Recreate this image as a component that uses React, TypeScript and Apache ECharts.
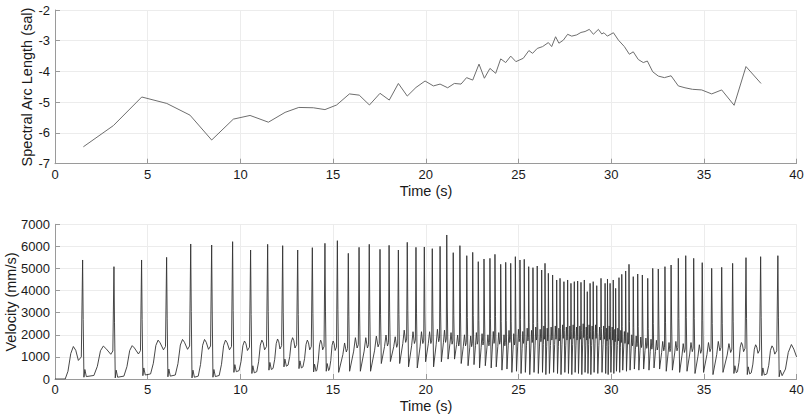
import React, { useEffect, useRef } from "react";
import * as echarts from "echarts";

// ---- Top panel: Spectral Arc Length per beat ----
const salTime = [
  1.53, 3.15, 4.68, 6.03, 7.28, 8.45, 9.62, 10.52, 11.51, 12.41, 13.15, 13.93, 14.56, 15.19,
  15.88, 16.41, 16.96, 17.53, 18.03, 18.52, 19.0, 19.47, 19.96, 20.41, 20.77, 21.18, 21.54,
  21.9, 22.2, 22.53, 22.87, 23.16, 23.46, 23.77, 24.04, 24.31, 24.58, 24.86, 25.26, 25.56,
  25.76, 26.01, 26.3, 26.61, 26.79, 27.0, 27.18, 27.42, 27.65, 27.87, 28.14, 28.37, 28.59,
  28.82, 29.04, 29.31, 29.49, 29.61, 29.79, 30.12, 30.39, 30.71, 30.98, 31.19, 31.46, 31.73,
  31.95, 32.24, 32.54, 32.87, 33.23, 33.62, 33.98, 34.38, 34.88, 35.42, 35.96, 36.63, 37.27,
  38.08,
];
const salValue = [
  -6.45, -5.76, -4.83, -5.04, -5.42, -6.23, -5.55, -5.43, -5.65, -5.33, -5.17, -5.18, -5.24,
  -5.09, -4.73, -4.77, -5.09, -4.71, -4.93, -4.39, -4.8, -4.52, -4.31, -4.47, -4.41, -4.53,
  -4.39, -4.41, -4.2, -4.28, -3.76, -4.22, -3.9, -4.06, -3.59, -3.71, -3.5, -3.68, -3.57,
  -3.32, -3.41, -3.25, -3.19, -3.06, -3.19, -2.87, -3.08, -2.98, -2.79, -2.85, -2.81, -2.73,
  -2.7, -2.63, -2.79, -2.63, -2.78, -2.74, -2.85, -2.74, -2.98, -3.19, -3.44, -3.36, -3.61,
  -3.71, -3.66, -4.01, -4.15, -4.2, -4.14, -4.47, -4.53, -4.58, -4.6, -4.73, -4.6, -5.1,
  -3.84, -4.39,
];

// ---- Bottom panel: velocity, read beat by beat ----
// spike time (s), spike peak (mm/s), hump before spike, trough after spike
const spikeT = [
  1.49, 3.18, 4.67, 6.02, 7.32, 8.45, 9.58, 10.55, 11.47, 12.28, 13.09, 13.88, 14.56, 15.23,
  15.82, 16.4, 16.95, 17.53, 18.02, 18.52, 19.0, 19.47, 19.92, 20.35, 20.77, 21.13, 21.48,
  21.84, 22.21, 22.53, 22.83, 23.14, 23.46, 23.73, 24.04, 24.31, 24.58, 24.83, 25.08, 25.31,
  25.55, 25.78, 26.01, 26.25, 26.43, 26.61, 26.84, 27.06, 27.24, 27.45, 27.65, 27.83, 28.01,
  28.19, 28.37, 28.55, 28.71, 28.86, 29.03, 29.22, 29.45, 29.67, 29.8, 29.94, 30.11, 30.24,
  30.42, 30.57, 30.78, 30.96, 31.19, 31.43, 31.68, 31.97, 32.24, 32.54, 32.9, 33.23, 33.62,
  34.02, 34.45, 34.91, 35.42, 35.96, 36.55, 37.27, 38.06, 38.99,
];
const spikeV = [
  5385, 5083, 5385, 5505, 6109, 6063, 6214, 5837, 6094, 6033, 5837, 5943, 6139, 6259, 5686,
  5958, 6094, 5867, 6048, 5837, 6184, 5958, 5973, 5897, 6003, 6516, 5716, 6033, 5580, 5731,
  5309, 5430, 5460, 5641, 5189, 5279, 5234, 5535, 5385, 5415, 5083, 5037, 5113, 4932, 5234,
  4781, 4706, 4480, 4555, 4404, 4480, 4329, 4404, 4434, 4374, 4480, 3952, 4329, 4404, 4223,
  4555, 4329, 4525, 4329, 4480, 4102, 4585, 4736, 4887, 5189, 4631, 4751, 4706, 4555, 5007,
  4977, 5083, 5158, 5460, 5580, 5460, 5264, 5007, 5053, 5234, 5490, 5535, 5580,
];
const humpV = [
  1470, 1490, 1510, 1760, 1790, 1790, 1760, 1720, 1760, 1810, 1870, 1760, 1760, 1720, 1630,
  1870, 1870, 1940, 1990, 1910, 2210, 2140, 2140, 2140, 2250, 2210, 2100, 1990, 2000, 1950,
  2100, 2050, 2000, 2150, 2100, 2000, 2200, 2050, 2250, 2150, 2300, 2200, 2350, 2250, 2400,
  2300, 2350, 2400, 2300, 2450, 2350, 2400, 2450, 2350, 2400, 2500, 2350, 2450, 2400, 2450,
  2350, 2400, 2300, 2400, 2350, 2250, 2300, 2200, 2150, 2100, 2000, 1950, 1900, 1850, 1800,
  1750, 1700, 1650, 1700, 1600, 1650, 1550, 1650, 1700, 1600, 1650, 1550, 1500,
];
const troughV = [
  80, 50, 150, 100, 50, 80, 300, 250, 400, 550, 470, 320, 350, 300, 350, 350, 350, 700, 790,
  700, 550, 500, 780, 550, 780, 900, 900, 700, 600, 650, 500, 600, 500, 550, 400, 450, 300,
  350, 250, 300, 200, 300, 250, 300, 200, 250, 300, 250, 200, 300, 250, 200, 300, 250, 200,
  300, 250, 200, 300, 250, 300, 250, 200, 300, 250, 350, 300, 400, 350, 400, 450, 400, 450,
  400, 500, 450, 350, 400, 300, 350, 250, 300, 200, 300, 250, 200, 150, 100,
];
// readings before the first beat and after the last beat
const leadT = [0, 0.55, 0.7, 0.85, 0.99, 1.12, 1.26, 1.42];
const leadV = [0, 0, 350, 1150, 1470, 1300, 840, 1000];
const tailT = [39.02, 39.06, 39.12, 39.22, 39.4, 39.55, 39.72, 39.85, 40];
const tailV = [2800, 100, 400, 150, 450, 1200, 1560, 1350, 1000];

function buildVelocity(): [number, number][] {
  const pts: [number, number][] = [];
  leadT.forEach((t, i) => pts.push([t, leadV[i]]));
  const n = spikeT.length;
  for (let i = 0; i < n; i++) {
    const T = spikeT[i];
    const H = spikeV[i];
    pts.push([T, H]);
    if (i === n - 1) {
      tailT.forEach((t, k) => pts.push([t, tailV[k]]));
      break;
    }
    const next = spikeT[i + 1];
    const G = next - T;
    const Tr = troughV[i];
    const Hu = humpV[i + 1];
    pts.push([T + Math.min(0.03, 0.1 * G), H * 0.5]);
    pts.push([T + Math.min(0.07, 0.25 * G), Tr]);
    if (G > 0.6) {
      pts.push([T + 0.12, Tr + 350]);
      pts.push([T + 0.2, Tr + 30]);
      pts.push([T + 0.36 * G, Tr + 80]);
      pts.push([T + 0.47 * G, Tr + 0.35 * (Hu - Tr)]);
      pts.push([T + 0.57 * G, Tr + 0.85 * (Hu - Tr)]);
      pts.push([T + 0.66 * G, Hu]);
      pts.push([T + 0.74 * G, Hu * 0.93]);
    } else {
      pts.push([T + 0.5 * G, Tr + 0.6 * (Hu - Tr)]);
      pts.push([T + 0.66 * G, Hu]);
    }
    const dipV = Hu * 0.75;
    pts.push([next - Math.min(0.17, 0.18 * G), dipV]);
    pts.push([next - Math.min(0.06, 0.07 * G), dipV + 150]);
  }
  return pts;
}

const FONT = "'Liberation Sans', Arial, Helvetica, sans-serif";
const AXIS_COLOR = "#9a9a9a";
const GRID_COLOR = "#ececec";
const LABEL_COLOR = "#1a1a1a";
const plain = (v: number) => String(v);

function xAxisFor(gridIndex: number) {
  return {
    type: "value",
    gridIndex,
    min: 0,
    max: 40,
    interval: 5,
    axisLine: { show: true, onZero: false, lineStyle: { color: AXIS_COLOR, width: 1 } },
    axisTick: { show: true, inside: true, length: 5, lineStyle: { color: AXIS_COLOR } },
    axisLabel: { color: LABEL_COLOR, fontSize: 13, margin: 4, fontFamily: FONT, formatter: plain },
    splitLine: { show: true, lineStyle: { color: GRID_COLOR, width: 1 } },
  };
}

function yAxisFor(gridIndex: number, min: number, max: number, interval: number) {
  return {
    type: "value",
    gridIndex,
    min,
    max,
    interval,
    axisLine: { show: true, lineStyle: { color: AXIS_COLOR, width: 1 } },
    axisTick: { show: true, inside: true, length: 5, lineStyle: { color: AXIS_COLOR } },
    axisLabel: { color: LABEL_COLOR, fontSize: 13, margin: 5, fontFamily: FONT, formatter: plain },
    splitLine: { show: true, lineStyle: { color: GRID_COLOR, width: 1 } },
  };
}

function title(text: string, x: number, y: number, rotated: boolean) {
  return {
    type: "text",
    x,
    y,
    rotation: rotated ? Math.PI / 2 : 0,
    style: {
      text,
      font: `14.5px ${FONT}`,
      fill: LABEL_COLOR,
      textAlign: "center",
      textVerticalAlign: "middle",
    },
  };
}

export default function App() {
  const ref = useRef<HTMLDivElement>(null);
  useEffect(() => {
    document.body.style.margin = "0";
    if (!ref.current) return;
    const chart = echarts.init(ref.current, undefined, { renderer: "svg" });
    const vel = buildVelocity();
    const sal = salTime.map((t, i) => [t, salValue[i]]);
    const option = {
      animation: false,
      backgroundColor: "#ffffff",
      textStyle: { fontFamily: FONT },
      grid: [
        { left: 55, right: 11.4, top: 10, height: 153.7 },
        { left: 55, right: 11.4, top: 224.3, height: 154.7 },
      ],
      xAxis: [xAxisFor(0), xAxisFor(1)],
      yAxis: [yAxisFor(0, -7, -2, 1), yAxisFor(1, 0, 7000, 1000)],
      series: [
        {
          type: "line",
          xAxisIndex: 0,
          yAxisIndex: 0,
          data: sal,
          showSymbol: false,
          lineStyle: { color: "#6e6e6e", width: 1 },
        },
        {
          type: "line",
          xAxisIndex: 1,
          yAxisIndex: 1,
          data: vel,
          showSymbol: false,
          lineStyle: { color: "#333333", width: 0.9 },
        },
      ],
      graphic: [
        title("Time (s)", 426, 190.5, false),
        title("Time (s)", 426, 405.5, false),
        title("Spectral Arc Length (sal)", 27, 87, true),
        title("Velocity (mm/s)", 11, 302, true),
      ],
    };
    chart.setOption(option as any);
    return () => chart.dispose();
  }, []);
  return <div ref={ref} style={{ width: 808, height: 416 }} />;
}
